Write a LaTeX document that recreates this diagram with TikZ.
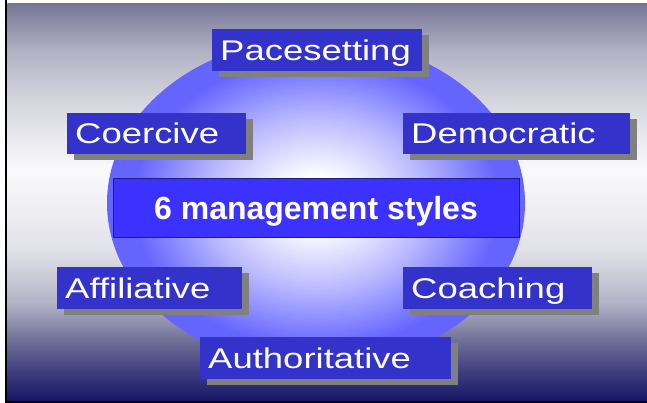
\documentclass[tikz,border=0pt]{standalone}
\usepackage{fontspec}
\setmainfont{Liberation Sans}
\newfontfamily\widesans{Liberation Sans}[FakeStretch=1.28]
\usetikzlibrary{shadows}

\definecolor{boxblue}{RGB}{51,51,204}
\definecolor{titleblue}{RGB}{60,50,255}
\definecolor{titleedge}{RGB}{30,30,130}
\definecolor{ballblue}{RGB}{100,100,255}
\definecolor{shadowgray}{RGB}{128,128,128}
\definecolor{bga}{RGB}{22,22,105}
\definecolor{bgb}{RGB}{60,60,125}
\definecolor{bgc}{RGB}{110,110,150}
\definecolor{bgd}{RGB}{180,180,200}
\definecolor{bge}{RGB}{225,225,232}
\definecolor{bgf}{RGB}{250,250,252}
\definecolor{bgg}{RGB}{212,212,222}
\definecolor{bgh}{RGB}{178,178,196}
\definecolor{bgi}{RGB}{118,118,150}

% backdrop: navy at the foot, near white just under the middle, grey-blue on top
\pgfdeclareverticalshading{backdrop}{100bp}{color(0bp)=(bga); color(25bp)=(bga);
  color(28.5bp)=(bgb); color(32.5bp)=(bgc); color(37.5bp)=(bgd); color(44bp)=(bge);
  color(54bp)=(bgf); color(63bp)=(bgg); color(69bp)=(bgh); color(75bp)=(bgi); color(100bp)=(bgi)}
\pgfdeclareradialshading{ballglow}{\pgfpoint{0bp}{0bp}}{color(0bp)=(white); color(4bp)=(white);
  color(13bp)=(ballblue!45); color(22bp)=(ballblue); color(50bp)=(ballblue)}

\begin{document}
\begin{tikzpicture}[x=1pt, y=-1pt,
    stylebox/.style={fill=boxblue, text=white, anchor=north west, inner xsep=8pt,
      font=\widesans\fontsize{28.5}{30}\selectfont, align=left,
      text height=20.4pt, text depth=0pt,
      drop shadow={shadow xshift=7pt, shadow yshift=-6pt, fill=shadowgray, opacity=1}},
    titlebox/.style={fill=titleblue, draw=titleedge, line width=0.8pt, text=white,
      font=\bfseries\fontsize{32}{34}\selectfont, minimum width=406pt, minimum height=59pt,
      text height=23pt, text depth=0pt}]
  \useasboundingbox (0,0) rectangle (647,403);
  \shade[shading=backdrop] (7.3,3.7) rectangle (647,401);
  \fill[black] (4.7,0) rectangle (7.3,403);
  \fill[black] (4.7,401) rectangle (647,403);
  % the glowing ball behind the styles
  \shade[shading=ballglow] (316,203) ellipse [x radius=209, y radius=165];

  \node[stylebox, text width=194pt, minimum height=42pt] (s1) at (212,29) {Pacesetting};
  \node[stylebox, text width=163pt, minimum height=41pt] (s2) at (67,113) {Coercive};
  \node[stylebox, text width=211pt, minimum height=41pt] (s3) at (403,113) {Democratic};
  \node[stylebox, text width=169pt, minimum height=42pt] (s4) at (57,267) {Affiliative};
  \node[stylebox, text width=173pt, minimum height=42pt] (s5) at (403,267) {Coaching};
  \node[stylebox, text width=235pt, minimum height=42pt] (s6) at (200,337) {Authoritative};

  \node[titlebox] (styles) at (316,207.5) {6 management styles};
\end{tikzpicture}
\end{document}
